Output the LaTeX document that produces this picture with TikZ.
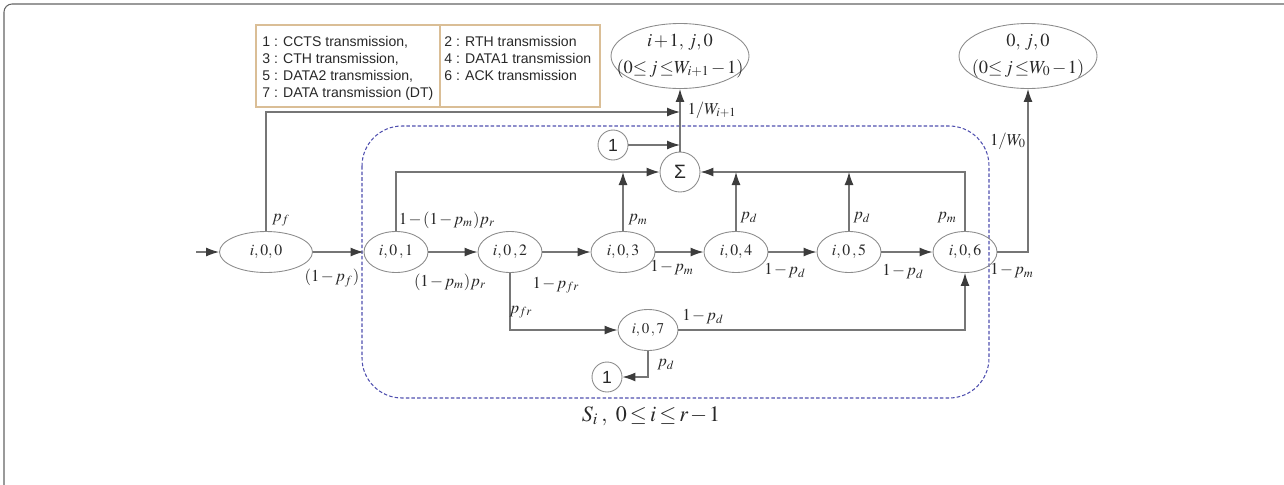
\documentclass[tikz,border=0pt]{standalone}
\usepackage{fontspec}
\usepackage{mathptmx}
\setmainfont{Liberation Serif}
\newfontfamily\legfont{Liberation Sans}
\usetikzlibrary{shapes.geometric,arrows.meta}
\definecolor{linec}{RGB}{118,118,118}
\definecolor{headc}{RGB}{60,60,60}
\definecolor{nodec}{RGB}{140,140,140}
\definecolor{textc}{RGB}{40,40,40}
\definecolor{legc}{RGB}{218,190,150}
\definecolor{dashc}{RGB}{80,80,175}
\definecolor{framec}{RGB}{100,100,100}
\begin{document}
\medmuskip=1.5mu plus 1mu
\thickmuskip=2.5mu plus 1mu
\begin{tikzpicture}[x=0.02cm,y=-0.02cm,
  conn/.style={draw=linec, line width=0.7pt, -{Latex[length=2.6mm,width=1.8mm,color=headc]}},
  st/.style={ellipse, draw=nodec, line width=0.5pt, minimum width=1.28cm, minimum height=0.82cm, inner sep=0pt, font=\fontsize{9}{10}\selectfont, text=textc},
  bigst/.style={ellipse, draw=nodec, line width=0.5pt, minimum width=2.76cm, minimum height=1.3cm, inner sep=0pt},
  inlbl/.style={align=center, font=\fontsize{10.5}{15}\selectfont, text=textc, inner sep=0pt},
  cir/.style={circle, draw=nodec, line width=0.5pt, minimum size=0.6cm, inner sep=0pt, font=\legfont\fontsize{10}{12}\selectfont, text=textc},
  lab/.style={font=\fontsize{9.5}{11}\selectfont, text=textc, inner sep=0pt},
  legtxt/.style={font=\legfont\fontsize{8}{9.6}\selectfont, text=textc, align=left, inner sep=0pt, anchor=north west}
]
\useasboundingbox (0,0) rectangle (1284,484);
% outer frame
\begin{scope}
\clip (0,0) rectangle (1284,484);
\draw[framec, line width=0.6pt, rounded corners=0.16cm] (4,4) rectangle (1310,510);
\end{scope}

% legend
\draw[legc, line width=0.6pt] (256,25) rectangle (600,107);
\draw[legc, line width=0.6pt] (440,25) -- (440,107);
\node[legtxt] (legL) at (262,36) {1 : CCTS transmission,\\3 : CTH transmission,\\5 : DATA2 transmission,\\7 : DATA transmission (DT)};
\node[legtxt] (legR) at (444,36) {2 : RTH transmission\\4 : DATA1 transmission\\6 : ACK transmission};

% dashed region
\draw[dashc, line width=0.6pt, dash pattern=on 2pt off 1.2pt, rounded corners=0.8cm] (362,126) rectangle (989,398);

% top states
\node[bigst, label={[inlbl]center:{$i+1,\,j,0$\\$(0{\le}\,j\,{\le}W_{i+1}-1)$}}] (E1) at (680,56) {};
\node[bigst, label={[inlbl]center:{$0,\,j,0$\\$(0{\le}\,j\,{\le}W_{0}-1)$}}] (E2) at (1028,56) {};

% main row
\node[st, minimum width=1.86cm] (n0) at (266,252) {$i,0,0$};
\node[st] (n1) at (396,252) {$i,0\,,1$};
\node[st] (n2) at (510,252) {$i,0\,,2$};
\node[st] (n3) at (623,252) {$i,0,3$};
\node[st] (n4) at (736,252) {$i,0,4$};
\node[st] (n5) at (849,252) {$i,0\,,5$};
\node[st] (n6) at (965,252) {$i,0,6$};
\node[st, minimum width=1.2cm, font=\fontsize{8.5}{10}\selectfont] (n7) at (648,330) {$i,0\,,7$};

\node[cir, minimum size=0.8cm, font=\legfont\fontsize{11}{12}\selectfont] (sig) at (680,172) {Σ};
\node[cir] (c1) at (613,145) {1};
\node[cir] (c2) at (607,377) {1};

\coordinate (start) at (196,252);
\coordinate (j1) at (680,112);

% connectors
\draw[conn] (start) -- (n0.west);
\draw[conn] (n0.east) -- (n1.west);
\draw[conn] (n1.east) -- (n2.west);
\draw[conn] (n2.east) -- (n3.west);
\draw[conn] (n3.east) -- (n4.west);
\draw[conn] (n4.east) -- (n5.west);
\draw[conn] (n5.east) -- (n6.west);

\draw[conn] (n0.north) |- (j1);
\draw[conn] (sig.north) -- (E1.south);
\draw[conn] (c1.east) -- (c1.east -| sig.north);
\draw[conn] (n1.north) |- (sig.west);
\draw[conn] (n6.north) |- (sig.east);
\draw[conn] (n3.north) -- (n3.north |- sig.west);
\draw[conn] (n4.north) -- (n4.north |- sig.east);
\draw[conn] (n5.north) -- (n5.north |- sig.east);
\draw[conn] (n6.east) -| (E2.south);
\draw[conn] (n2.south) |- (n7.west);
\draw[conn] (n7.east) -| (n6.south);
\draw[conn] (n7.south) |- (c2.east);

% labels
\node[lab] (l1) at (281,220) {$p_f$};
\node[lab] (l2) at (332,278) {$(1-p_f)$};
\node[lab] (l3) at (447,220) {$1-(1-p_m)p_r$};
\node[lab] (l4) at (450,282) {$(1-p_m)p_r$};
\node[lab] (l5) at (556,285) {$1-p_{fr}$};
\node[lab] (l6) at (521,312) {$p_{fr}$};
\node[lab] (l7) at (638,220) {$p_m$};
\node[lab] (l8) at (749,218) {$p_d$};
\node[lab] (l9) at (862,218) {$p_d$};
\node[lab] (l10) at (947,218) {$p_m$};
\node[lab] (l11) at (672,268) {$1-p_m$};
\node[lab] (l12) at (785,271) {$1-p_d$};
\node[lab] (l13) at (903,272) {$1-p_d$};
\node[lab] (l14) at (1012,271) {$1-p_m$};
\node[lab] (l15) at (712,110) {$1/W_{i+1}$};
\node[lab] (l16) at (1008,141) {$1/W_{0}$};
\node[lab] (l17) at (703,317) {$1-p_d$};
\node[lab] (l18) at (666,365) {$p_d$};
\node[lab, font=\fontsize{12.5}{14}\selectfont] (l19) at (651,416) {$S_i\;,\;\;0\le i\le r-1$};
\end{tikzpicture}
\end{document}
